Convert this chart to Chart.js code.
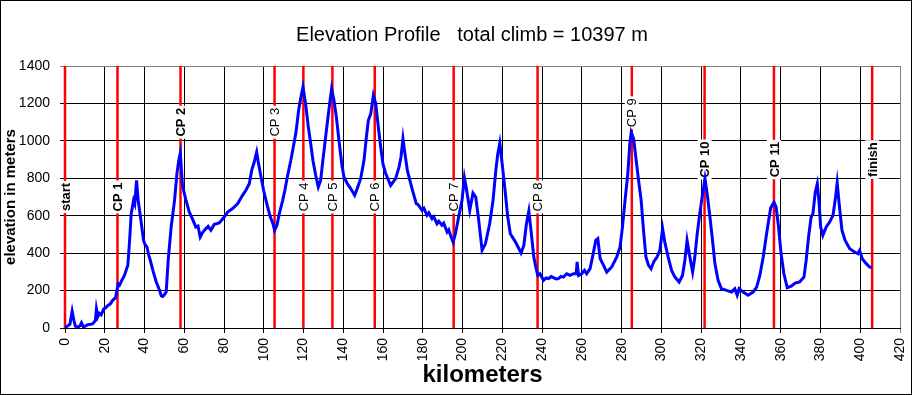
<!DOCTYPE html>
<html>
<head>
<meta charset="utf-8">
<title>Elevation Profile</title>
<script src="https://cdn.jsdelivr.net/npm/chart.js@4.4.1/dist/chart.umd.min.js"></script>
<style>
  html, body { margin: 0; padding: 0; background: #fff; }
  #wrap { width: 912px; height: 395px; }
</style>
</head>
<body>
<div id="wrap"><canvas id="grafico" width="912" height="395"></canvas></div>
<script>
// distance (km) and elevation (m)
var km = [
  0, 1, 2.5, 3.6, 4.5, 5.2, 6.5, 7.6, 8.3, 9.3, 10.5, 11.5, 13, 14, 15.3, 15.8, 16.5, 17.3, 18.2, 19.5,
  20.5, 21.5, 22.7, 24, 25.4, 26.1, 26.7, 27.4, 28.6, 29.9, 31.6, 32.5, 33.3, 34.5, 35.1, 36, 36.8, 38.2, 39.5, 40.3,
  41.2, 42.1, 42.9, 44.2, 45.9, 47.6, 48.4, 49.2, 50.1, 50.9, 51.9, 53.4, 55.1, 56.3, 57.3, 58, 59.1, 60.8, 62.5, 64.2,
  65.8, 66.9, 68, 69.2, 70.9, 72, 73.4, 75.1, 77.6, 80.1, 81.8, 84.3, 86.8, 89.3, 91, 92.7, 93.9, 95.2, 96.4, 97.2,
  98.6, 99.9, 101.1, 101.9, 103.3, 104.6, 105.4, 106.6, 107.8, 109.5, 110.6, 112, 113.6, 115, 116.2, 117.5, 118.6, 119.7, 121, 122.4,
  123.6, 124.7, 126.1, 127.4, 128.6, 129.7, 131.1, 132.5, 134.1, 135.3, 136.5, 137.8, 139.2, 140.3, 142, 143.7, 145.7, 147, 148.7, 150.4,
  151.6, 152.6, 153.8, 155.1, 156.3, 157.6, 158.8, 159.9, 161.3, 163.8, 166.3, 168, 169, 170, 171, 172.2, 173.9, 175, 176.7, 177.5,
  179.6, 180.5, 182.1, 183, 184.6, 185.5, 187.1, 188, 189.6, 190.5, 192.2, 193, 194.2, 195.2, 196.4, 198, 199.7, 200.9, 201.9, 203.6,
  205.2, 206.6, 208.1, 209.8, 211.5, 213.6, 215.3, 216.7, 217.7, 218.7, 219.7, 221, 222.7, 224, 226.6, 229.4, 230.8, 232.1, 233.3, 234.4,
  235.8, 236.8, 237.8, 238.9, 240.7, 242, 243.2, 244.5, 245.7, 247, 248.2, 249.5, 250.7, 252.4, 254, 255.8, 257.1, 257.6, 258.3, 259.9,
  261.3, 262.4, 264.1, 265.5, 267, 268, 269.2, 270.9, 272.5, 275, 277.5, 279.2, 280.4, 281.7, 283.1, 284.1, 284.8, 286, 287.1, 288.5,
  289.8, 291, 292.2, 293.5, 294.8, 296.2, 297.8, 299.2, 300.6, 301.7, 303.4, 305.1, 306.8, 308.9, 310.6, 311.8, 312.9, 314.3, 315.7, 316.8,
  318, 319.3, 320.7, 321.9, 323, 324.4, 325.7, 326.9, 328.5, 330.2, 332.8, 335.3, 336.9, 338.1, 339.1, 341.1, 343.6, 346.1, 347.9, 349.5,
  351.2, 352.9, 354.9, 356.6, 357.7, 358.9, 360.2, 361.6, 363.3, 365.3, 367.3, 369.5, 371.7, 372.8, 374, 375.3, 376.2, 377.4, 378.4, 379.2,
  380.1, 381.2, 382.9, 384.6, 386.3, 387.6, 388.4, 389.4, 390.8, 392.4, 394.7, 397.2, 398.8, 399.7, 401, 403, 404.7, 406
];
var elevation = [
  5, 8, 20, 90, 40, 10, 5, 12, 28, 5, 12, 18, 20, 23, 40, 102, 60, 78, 70, 102,
  108, 120, 128, 148, 162, 200, 235, 228, 255, 281, 335, 468, 611, 682, 664, 789, 682, 575, 468, 445,
  433, 390, 362, 308, 246, 201, 172, 169, 180, 192, 362, 540, 682, 825, 900, 935, 760, 685, 620, 580,
  540, 545, 486, 510, 531, 543, 522, 554, 561, 593, 620, 638, 664, 709, 736, 771, 842, 887, 940, 887,
  807, 736, 682, 647, 593, 557, 522, 549, 611, 682, 736, 816, 896, 976, 1047, 1163, 1230, 1288, 1199, 1074,
  985, 896, 816, 753, 789, 896, 1021, 1145, 1279, 1216, 1127, 1003, 878, 807, 771, 745, 709, 745, 798, 896,
  1021, 1110, 1145, 1243, 1199, 1074, 967, 878, 825, 762, 798, 860, 914, 1012, 931, 842, 771, 727, 664, 660,
  629, 640, 602, 615, 584, 595, 557, 570, 549, 560, 513, 525, 486, 459, 504, 593, 682, 803, 744, 629,
  721, 700, 575, 415, 451, 557, 682, 842, 931, 988, 896, 771, 593, 504, 459, 401, 442, 557, 625, 522,
  379, 326, 281, 290, 255, 268, 264, 275, 269, 262, 264, 276, 272, 290, 281, 290, 290, 353, 281, 290,
  308, 290, 317, 388, 468, 477, 370, 335, 299, 326, 379, 433, 540, 682, 825, 985, 1045, 1012, 914, 789,
  682, 522, 379, 335, 317, 355, 379, 415, 531, 459, 379, 308, 272, 246, 281, 362, 468, 379, 299, 379,
  504, 611, 718, 798, 718, 593, 468, 344, 255, 210, 201, 192, 210, 175, 210, 192, 175, 192, 219, 281,
  379, 504, 640, 673, 646, 540, 397, 290, 215, 223, 240, 246, 272, 362, 486, 593, 611, 727, 771, 682,
  540, 495, 540, 566, 602, 700, 775, 664, 522, 468, 424, 406, 397, 415, 370, 344, 326, 322
];

// checkpoints: name, distance (km), elevation at which the name sits
var cpNames = ['start', 'CP 1', 'CP 2', 'CP 3', 'CP 4', 'CP 5', 'CP 6', 'CP 7', 'CP 8', 'CP 9', 'CP 10', 'CP 11', 'finish'];
var cpKm = [0, 26.4, 58.1, 105.4, 119.9, 134.5, 155.8, 195.5, 237.7, 285.1, 321.7, 356.6, 406];
var cpLabelElev = [700, 700, 1100, 1100, 700, 700, 700, 700, 700, 1150, 900, 900, 900];

var xTicks = [0, 420, 20];     // min, max, step
var yTicks = [0, 1400, 200];

var titleText = 'Elevation Profile   total climb = 10397 m';

var FONT = '"Liberation Sans", Arial, sans-serif';

var puntos = km.map(function (d, i) { return { x: d, y: elevation[i] }; });

// fondo blanco, marco negro y titulo
var marco = {
    id: 'marco',
    beforeDraw: function (chart) {
        var ctx = chart.ctx;
        ctx.save();
        ctx.fillStyle = '#fff';
        ctx.fillRect(0, 0, chart.width, chart.height);
        ctx.restore();
    },
    afterDraw: function (chart) {
        var ctx = chart.ctx;
        ctx.save();
        ctx.strokeStyle = '#000';
        ctx.lineWidth = 1;
        ctx.strokeRect(0.5, 0.5, chart.width - 1, chart.height - 1);
        ctx.fillStyle = '#000';
        ctx.font = '20px ' + FONT;
        ctx.textAlign = 'center';
        ctx.textBaseline = 'alphabetic';
        ctx.fillText(titleText, 472, 41);
        ctx.restore();
    }
};

// lineas rojas de los puntos de control y sus nombres
var normales = ['CP 3', 'CP 4', 'CP 5', 'CP 6', 'CP 7', 'CP 8', 'CP 9'];
var controles = {
    id: 'controles',
    beforeDatasetsDraw: function (chart) {
        var ctx = chart.ctx;
        var xs = chart.scales.x;
        var ys = chart.scales.y;
        var top = ys.getPixelForValue(yTicks[1]);
        var bottom = ys.getPixelForValue(yTicks[0]);
        ctx.save();
        ctx.strokeStyle = '#ff0000';
        ctx.lineWidth = 2.5;
        cpKm.forEach(function (d) {
            var x = xs.getPixelForValue(d);
            ctx.beginPath();
            ctx.moveTo(x, top);
            ctx.lineTo(x, bottom);
            ctx.stroke();
        });
        cpNames.forEach(function (name, i) {
            var x = xs.getPixelForValue(cpKm[i]);
            var y = ys.getPixelForValue(cpLabelElev[i]);
            ctx.save();
            ctx.translate(x, y);
            ctx.rotate(-Math.PI / 2);
            ctx.font = (normales.indexOf(name) >= 0 ? '' : 'bold ') + '13px ' + FONT;
            var w = ctx.measureText(name).width;
            ctx.fillStyle = '#fff';
            ctx.fillRect(-w / 2 - 2, -7, w + 4, 14);
            ctx.fillStyle = '#000';
            ctx.textAlign = 'center';
            ctx.textBaseline = 'middle';
            ctx.fillText(name, 0, 1);
            ctx.restore();
        });
        ctx.restore();
    }
};

var colorRejilla = function (max) {
    return function (c) {
        return (c.tick && c.tick.value === max) ? '#808080' : '#000000';
    };
};

new Chart(document.getElementById('grafico').getContext('2d'), {
    type: 'scatter',
    data: {
        datasets: [{
            label: 'elevation',
            data: puntos,
            showLine: true,
            borderColor: '#0000ff',
            borderWidth: 3,
            pointRadius: 0,
            tension: 0
        }]
    },
    options: {
        responsive: false,
        animation: false,
        devicePixelRatio: 1,
        layout: { padding: { top: 66, right: 0, left: 0, bottom: 0 } },
        plugins: {
            legend: { display: false },
            tooltip: { enabled: false },
            title: { display: false }
        },
        scales: {
            x: {
                type: 'linear',
                min: xTicks[0],
                max: xTicks[1],
                afterFit: function (scale) {
                    scale.height = 67;
                    scale.paddingRight = 12;
                },
                ticks: {
                    stepSize: xTicks[2],
                    minRotation: 90,
                    maxRotation: 90,
                    padding: 5,
                    color: '#000',
                    font: { family: FONT, size: 14 },
                    callback: function (v) { return String(v); }
                },
                grid: { color: colorRejilla(xTicks[1]), lineWidth: 1, tickLength: 5 },
                border: { color: '#000', width: 1 },
                title: {
                    display: true,
                    text: 'kilometers',
                    color: '#000',
                    font: { family: FONT, size: 24, weight: 'bold' },
                    padding: { top: 0, bottom: 5 }
                }
            },
            y: {
                min: yTicks[0],
                max: yTicks[1],
                afterFit: function (scale) { scale.width = 65; },
                ticks: {
                    stepSize: yTicks[2],
                    padding: 10,
                    color: '#000',
                    font: { family: FONT, size: 14 },
                    callback: function (v) { return String(v); }
                },
                grid: { color: colorRejilla(yTicks[1]), lineWidth: 1, tickLength: 5 },
                border: { color: '#000', width: 1 },
                title: {
                    display: true,
                    text: 'elevation in meters',
                    color: '#000',
                    font: { family: FONT, size: 15, weight: 'bold' },
                    padding: { top: 2, bottom: 0 }
                }
            }
        }
    },
    plugins: [marco, controles]
});
</script>
</body>
</html>
